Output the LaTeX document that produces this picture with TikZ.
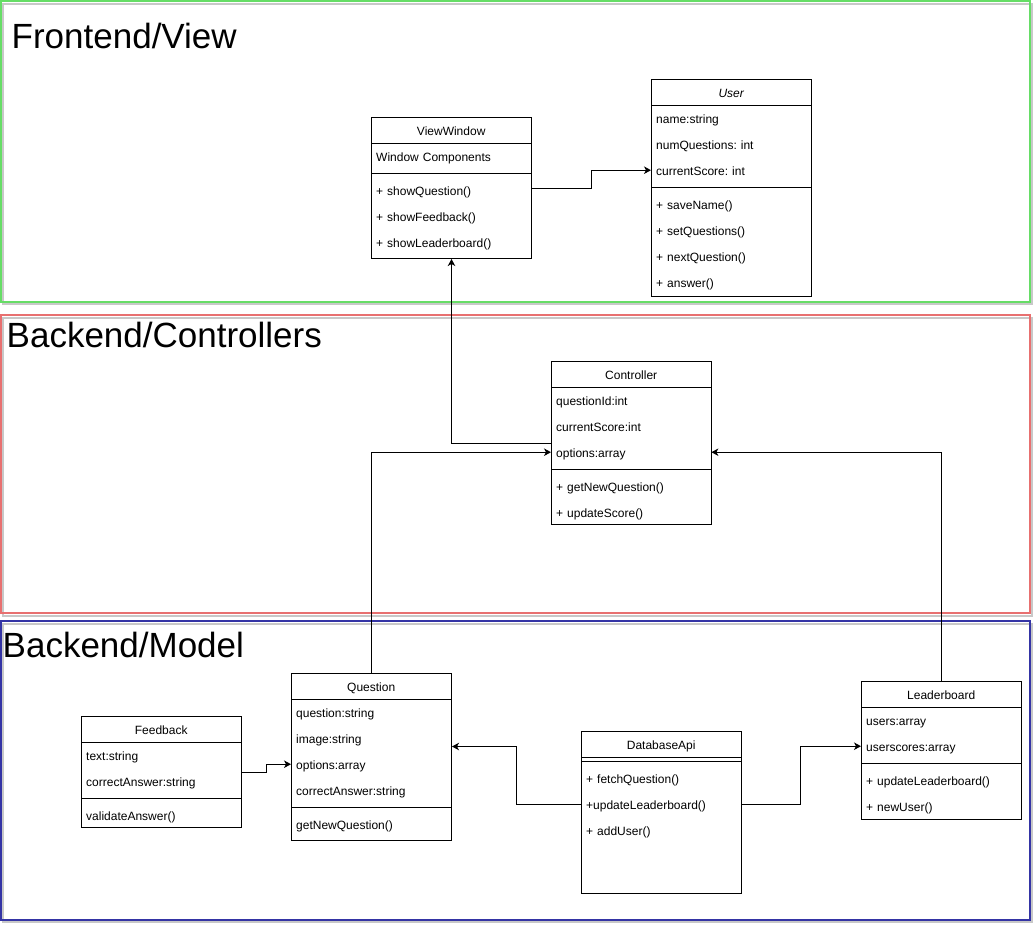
\documentclass[tikz,border=0pt]{standalone}
\usepackage{fontspec}
\setmainfont{Liberation Sans}
\usetikzlibrary{arrows.meta}
\frenchspacing
\definecolor{frgreen}{RGB}{102,221,102}
\definecolor{frred}{RGB}{232,112,112}
\definecolor{frblue}{RGB}{52,52,165}
\definecolor{frshadow}{RGB}{200,200,200}
\tikzset{
  ubox/.style={draw=black, line width=1pt, fill=white, minimum width=160pt, inner sep=0pt, anchor=north west},
  urow/.style={minimum width=160pt, minimum height=26pt, text width=150pt, inner xsep=5pt, inner ysep=0pt,
    align=left, text height=12pt, text depth=2.4pt, anchor=north west, font=\fontsize{12}{14}\selectfont\frenchspacing},
  uhead/.style={urow, align=center},
  uline/.style={line width=1pt},
  arr/.style={line width=1pt, -{Stealth[length=7pt,width=7.5pt,inset=2pt]}},
  frame/.style={line width=1.5pt},
  shadowline/.style={line width=1.5pt, draw=frshadow},
  title/.style={anchor=base west, inner sep=0pt, font=\fontsize{35}{40}\selectfont}
}
\begin{document}
\begin{tikzpicture}[x=1pt, y=-1pt]
\useasboundingbox (0,0) rectangle (1033,924);
% layer frames
\draw[shadowline] (3,4) rectangle (1032,304);
\draw[frame, draw=frgreen] (1,1) rectangle (1030,302);
\draw[shadowline] (3,318) rectangle (1032,616);
\draw[frame, draw=frred] (1,315) rectangle (1030,613);
\draw[shadowline] (3,624) rectangle (1032,922);
\draw[frame, draw=frblue] (1,621) rectangle (1030,920);
\node[title] (t1) at (11.5,48) {Frontend/View};
\node[title] (t2) at (6.5,347) {Backend/Controllers};
\node[title] (t3) at (2.5,657) {Backend/Model};

% ViewWindow
\node[ubox, minimum height=141pt] (vw) at (371,117) {};
\node[uhead] (vwh) at (371,117) {ViewWindow};
\draw[uline] (371,143) -- (531,143);
\node[urow] (vwa1) at (371,143) {Window Components};
\draw[uline] (371,173) -- (531,173);
\node[urow] (vwm1) at (371,177) {+ showQuestion()};
\node[urow] (vwm2) at (371,203) {+ showFeedback()};
\node[urow] (vwm3) at (371,229) {+ showLeaderboard()};

% User
\node[ubox, minimum height=217pt] (us) at (651,79) {};
\node[uhead] (ush) at (651,79) {\itshape User};
\draw[uline] (651,105) -- (811,105);
\node[urow] (ua1) at (651,105) {name:string};
\node[urow] (ua2) at (651,131) {numQuestions: int};
\node[urow] (ua3) at (651,157) {currentScore: int};
\draw[uline] (651,187) -- (811,187);
\node[urow] (um1) at (651,191) {+ saveName()};
\node[urow] (um2) at (651,217) {+ setQuestions()};
\node[urow] (um3) at (651,243) {+ nextQuestion()};
\node[urow] (um4) at (651,269) {+ answer()};

% Controller
\node[ubox, minimum height=163pt] (ctrl) at (551,361) {};
\node[uhead] (ch) at (551,361) {Controller};
\draw[uline] (551,387) -- (711,387);
\node[urow] (ca1) at (551,387) {questionId:int};
\node[urow] (ca2) at (551,413) {currentScore:int};
\node[urow] (ca3) at (551,439) {options:array};
\draw[uline] (551,469) -- (711,469);
\node[urow] (cm1) at (551,473) {+ getNewQuestion()};
\node[urow] (cm2) at (551,499) {+ updateScore()};

% Question
\node[ubox, minimum height=167pt] (q) at (291,673) {};
\node[uhead] (qh) at (291,673) {Question};
\draw[uline] (291,699) -- (451,699);
\node[urow] (qa1) at (291,699) {question:string};
\node[urow] (qa2) at (291,725) {image:string};
\node[urow] (qa3) at (291,751) {options:array};
\node[urow] (qa4) at (291,777) {correctAnswer:string};
\draw[uline] (291,807) -- (451,807);
\node[urow] (qm1) at (291,811) {getNewQuestion()};

% Feedback
\node[ubox, minimum height=111pt] (fb) at (81,716) {};
\node[uhead] (fbh) at (81,716) {Feedback};
\draw[uline] (81,742) -- (241,742);
\node[urow] (fa1) at (81,742) {text:string};
\node[urow] (fa2) at (81,768) {correctAnswer:string};
\draw[uline] (81,798) -- (241,798);
\node[urow] (fm1) at (81,802) {validateAnswer()};

% DatabaseApi
\node[ubox, minimum height=162pt] (db) at (581,731) {};
\node[uhead] (dbh) at (581,731) {DatabaseApi};
\draw[uline] (581,757) -- (741,757);
\draw[uline] (581,761) -- (741,761);
\node[urow] (dbm1) at (581,765) {+ fetchQuestion()};
\node[urow] (dbm2) at (581,791) {+updateLeaderboard()};
\node[urow] (dbm3) at (581,817) {+ addUser()};

% Leaderboard
\node[ubox, minimum height=138pt] (lb) at (861,681) {};
\node[uhead] (lbh) at (861,681) {Leaderboard};
\draw[uline] (861,707) -- (1021,707);
\node[urow] (la1) at (861,707) {users:array};
\node[urow] (la2) at (861,733) {userscores:array};
\draw[uline] (861,763) -- (1021,763);
\node[urow] (lm1) at (861,767) {+ updateLeaderboard()};
\node[urow] (lm2) at (861,793) {+ newUser()};

% connectors
\draw[arr] (vw.east) -- ++(59,0) |- (ua3.west);
\draw[arr] (ctrl.west) -| (vw.south);
\draw[arr] (q.north) |- (ca3.west);
\draw[arr] (lb.north) |- (ca3.east);
\draw[arr] (fb.east) -- ++(24,0) |- (qa3.west);
\draw[arr] (dbm2.west) -- ++(-65,0) |- ([yshift=10.5pt]q.east);
\draw[arr] (dbm2.east) -- ++(59,0) |- (la2.west);
\end{tikzpicture}
\end{document}
